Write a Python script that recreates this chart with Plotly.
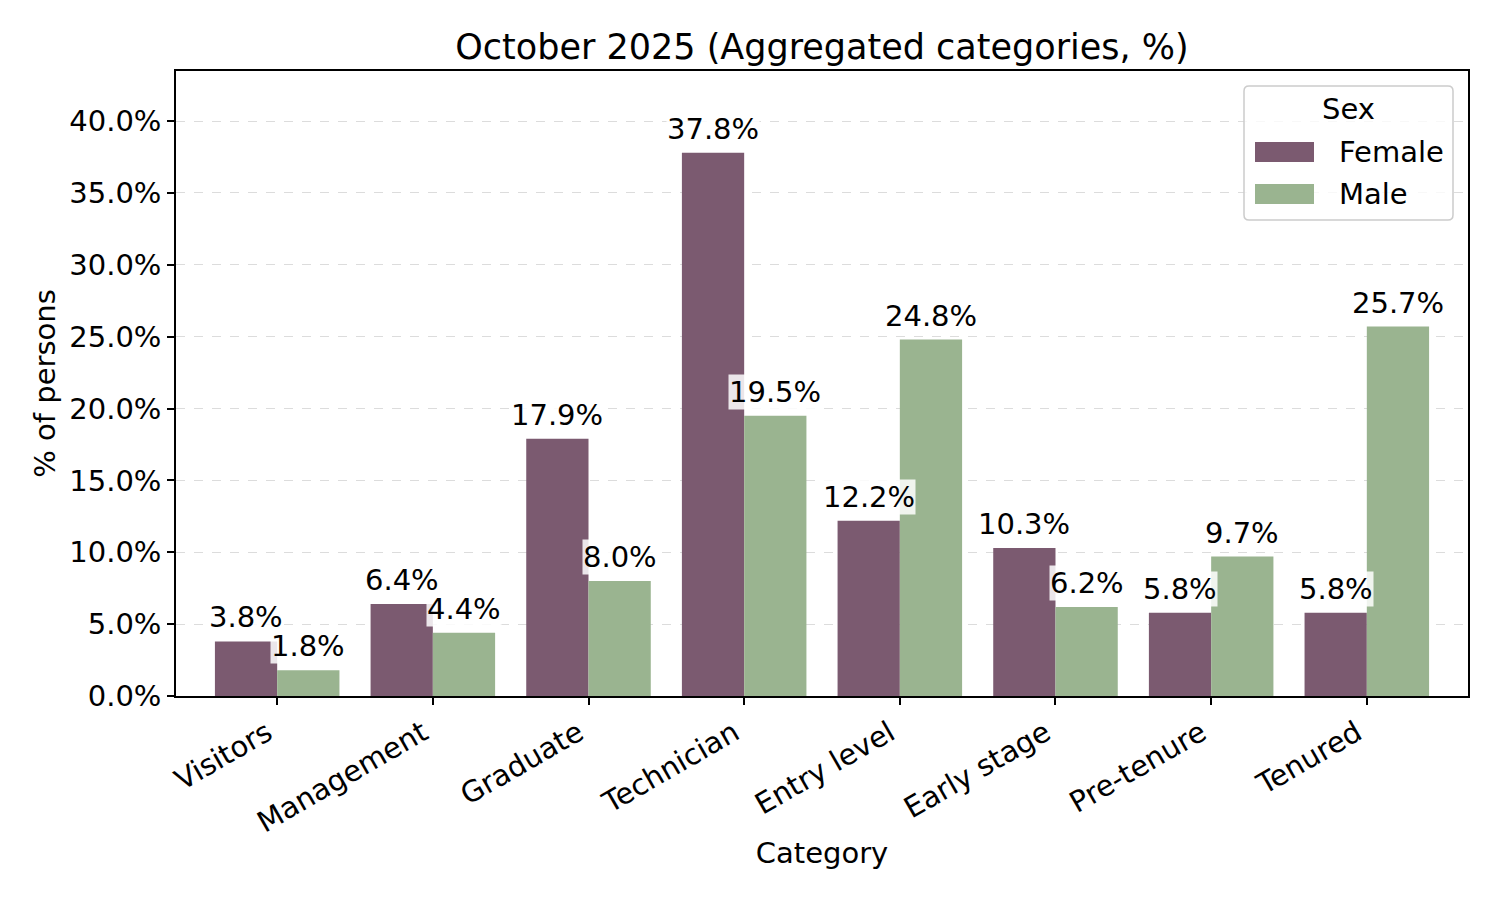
import plotly.graph_objects as go

categories = ["Visitors", "Management", "Graduate", "Technician",
              "Entry level", "Early stage", "Pre-tenure", "Tenured"]
female = [3.8, 6.4, 17.9, 37.8, 12.2, 10.3, 5.8, 5.8]
male = [1.8, 4.4, 8.0, 19.5, 24.8, 6.2, 9.7, 25.7]
y_ticks = [0, 5, 10, 15, 20, 25, 30, 35, 40]

FEMALE_COLOR = "#7b5a70"
MALE_COLOR = "#9ab490"
FONT = "DejaVu Sans"
FS = 29

W, H = 1500, 900
L, R, T, B = 176, 32, 71, 204
PW, PH = W - L - R, H - T - B

fig = go.Figure()
fig.add_trace(go.Bar(x=categories, y=female, name="Female",
                     marker=dict(color=FEMALE_COLOR, line=dict(width=0)),
                     showlegend=False))
fig.add_trace(go.Bar(x=categories, y=male, name="Male",
                     marker=dict(color=MALE_COLOR, line=dict(width=0)),
                     showlegend=False))

annotations = []
for i, (f, m) in enumerate(zip(female, male)):
    for val, off in ((f, -0.2), (m, 0.2)):
        annotations.append(dict(
            x=i + off, y=val, xref="x", yref="y", text=f"{val:.1f}%",
            showarrow=False, yanchor="bottom", xanchor="center", yshift=6,
            bgcolor="rgba(255,255,255,0.85)", borderpad=0,
            font=dict(family=FONT, size=FS, color="black")))


def px2x(px):
    return (px - L) / PW


def px2y(py):
    return (H - B - py) / PH


# custom legend (wide patches like matplotlib)
x0, x1, y0, y1 = px2x(1244), px2x(1453), px2y(220), px2y(86)
rx, ry = 5 / PW, 5 / PH
path = (f"M {x0+rx},{y0} L {x1-rx},{y0} Q {x1},{y0} {x1},{y0+ry} "
        f"L {x1},{y1-ry} Q {x1},{y1} {x1-rx},{y1} L {x0+rx},{y1} "
        f"Q {x0},{y1} {x0},{y1-ry} L {x0},{y0+ry} Q {x0},{y0} {x0+rx},{y0} Z")
shapes = [dict(type="path", path=path, xref="paper", yref="paper",
               fillcolor="rgba(255,255,255,0.8)",
               line=dict(color="#cccccc", width=1.5), layer="above")]
legend_items = [("Female", FEMALE_COLOR, 152), ("Male", MALE_COLOR, 194)]
for name, col, cy in legend_items:
    shapes.append(dict(type="rect", xref="paper", yref="paper",
                       x0=px2x(1255), x1=px2x(1314),
                       y0=px2y(cy + 10), y1=px2y(cy - 10),
                       fillcolor=col, line=dict(width=0), layer="above"))
    annotations.append(dict(x=px2x(1337), y=px2y(cy), xref="paper", yref="paper",
                            text=name, showarrow=False, xanchor="left",
                            yanchor="middle",
                            font=dict(family=FONT, size=FS, color="black")))
annotations.append(dict(x=px2x(1348), y=px2y(109), xref="paper", yref="paper",
                        text="Sex", showarrow=False, xanchor="center",
                        yanchor="middle",
                        font=dict(family=FONT, size=FS, color="black")))

fig.update_layout(
    width=W, height=H,
    margin=dict(l=L, r=R, t=T, b=B, autoexpand=False),
    paper_bgcolor="white", plot_bgcolor="white",
    font=dict(family=FONT, size=FS, color="black"),
    title=dict(text="October 2025 (Aggregated categories, %)",
               x=0.5, xref="paper", y=1 - 47 / H, yref="container",
               yanchor="middle", xanchor="center",
               font=dict(family=FONT, size=35, color="black")),
    barmode="group", bargap=0.2, bargroupgap=0,
    annotations=annotations, shapes=shapes,
    showlegend=False,
)
fig.update_xaxes(
    type="category", range=[-0.65, 7.65],
    tickangle=-30, ticks="outside", ticklen=7, tickwidth=1.5, tickcolor="black",
    ticklabelshift=-10,
    showline=True, linecolor="black", linewidth=1.5, mirror=True,
    showgrid=False, zeroline=False,
    title=dict(text="Category", standoff=5,
               font=dict(family=FONT, size=FS, color="black")),
    tickfont=dict(family=FONT, size=FS, color="black"),
)
fig.update_yaxes(
    range=[0, 43.48], tickvals=y_ticks,
    ticktext=[f"{v:.1f}%" for v in y_ticks],
    ticks="outside", ticklen=7, tickwidth=1.5, tickcolor="black",
    showline=True, linecolor="black", linewidth=1.5, mirror=True,
    showgrid=True, gridcolor="#dcdcdc", griddash="dash", gridwidth=1,
    zeroline=False,
    title=dict(text="% of persons", standoff=5,
               font=dict(family=FONT, size=FS, color="black")),
    tickfont=dict(family=FONT, size=FS, color="black"),
)

fig.write_html("out.html", config={"displayModeBar": False},
               post_script="document.body.style.margin='0';")
